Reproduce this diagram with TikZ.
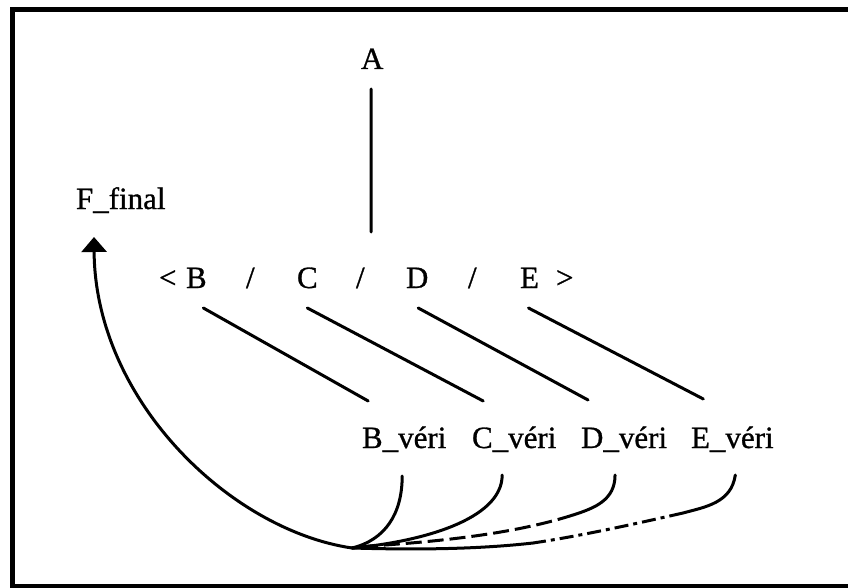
\documentclass[tikz,border=0pt]{standalone}
\usepackage{fontspec}
\setmainfont{Liberation Serif}[BoldFont={Liberation Serif},BoldFeatures={FakeBold=0.9}]
\usetikzlibrary{arrows.meta,calc}
\begin{document}
\begin{tikzpicture}[x=1pt,y=-1pt,
  lbl/.style={inner sep=0pt,outer sep=0pt,anchor=base west,font=\fontsize{31}{36}\selectfont\bfseries},
  conn/.style={line width=3pt,line cap=round},
  frame/.style={line width=5pt},
  dsh/.style={conn,line cap=butt,dash pattern=on 16pt off 6pt},
  dshdot/.style={conn,line cap=butt,dash pattern=on 14pt off 5pt on 4pt off 5pt}]
\useasboundingbox (0,0) rectangle (848,588);
\draw[frame] (852,9.5) -- (12.5,9.5) -- (12.5,586) -- (852,586);
% labels
\node[lbl] (A) at (361,69) {A};
\node[lbl] (F) at (76,209) {F\_final};
\node[lbl] (lt) at (159,288) {<};
\node[lbl] (B) at (186,288) {B};
\node[lbl] (s1) at (246,288) {/};
\node[lbl] (C) at (297,288) {C};
\node[lbl] (s2) at (356,288) {/};
\node[lbl] (D) at (406,288) {D};
\node[lbl] (s3) at (468,288) {/};
\node[lbl] (E) at (520,288) {E};
\node[lbl] (gt) at (556,288) {>};
\node[lbl] (Bv) at (362,448) {B\_véri};
\node[lbl] (Cv) at (472,448) {C\_véri};
\node[lbl] (Dv) at (581,448) {D\_véri};
\node[lbl] (Ev) at (691,448) {E\_véri};
\coordinate (Aend) at (371,232);
\coordinate (M) at (352,548);
\coordinate (Ftip) at (94,237);
% vertical line from A
\draw[conn] ($(A.base)+(-1,20)$) -- (Aend);
% diagonals
\draw[conn] ($(B.base)+(7,20)$) -- ($(Bv.base)+(-36,-47)$);
\draw[conn] ($(C.base)+(0,20)$) -- ($(Cv.base)+(-31,-47)$);
\draw[conn] ($(D.base)+(1,20)$) -- ($(Dv.base)+(-36,-48)$);
\draw[conn] ($(E.base)+(-1,20)$) -- ($(Ev.base)+(-29,-49)$);
% bottom curves
\draw[conn] ($(Bv.base)+(-2,28)$) .. controls +(0,38) and (385,540) .. (M);
\draw[conn] ($(Cv.base)+(-12,27)$) .. controls +(0,45) and (420,542) .. (M);
\draw[conn] ($(Dv.base)+(-9,27)$) .. controls +(0,25) and (595,508) .. (573,515) coordinate (Dm);
\draw[dsh] (Dm) .. controls (520,532) and (450,541) .. (370,546);
\draw[conn] (370,546) -- (M);
\draw[conn] ($(Ev.base)+(3,27)$) .. controls +(-4,28) and (705,507) .. (683,513) coordinate (Em);
\draw[dshdot] (Em) .. controls (630,525) and (580,536) .. (533,543) coordinate (Ed);
\draw[conn] (Ed) .. controls (480,549) and (420,550) .. (M);
% big curve to F_final
\draw[conn,-{Triangle[width=25pt,length=15pt]}] (M) .. controls (230,530) and (95,400) .. (Ftip);
\end{tikzpicture}
\end{document}
